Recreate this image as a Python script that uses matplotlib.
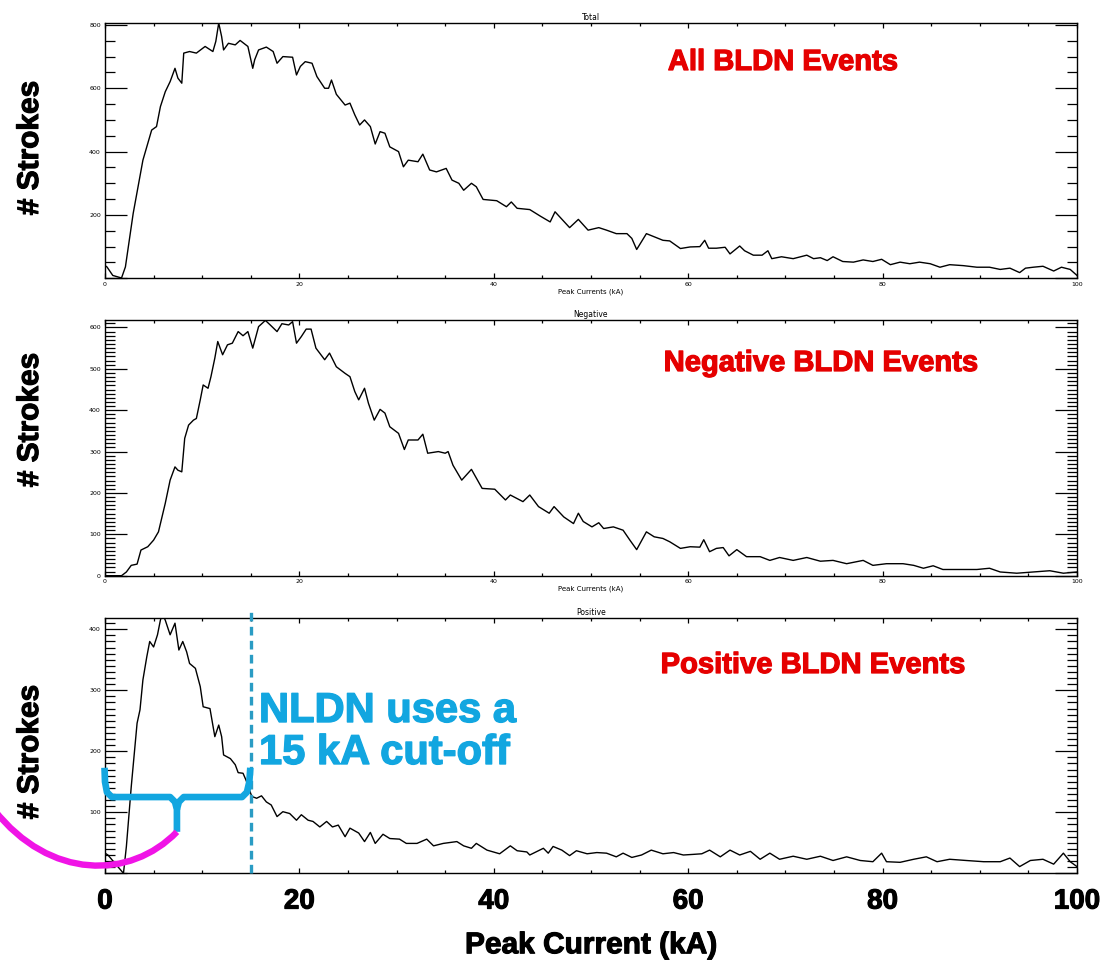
import numpy as np
import matplotlib
matplotlib.use("Agg")
import matplotlib.pyplot as plt
from matplotlib.ticker import MultipleLocator, FuncFormatter
from matplotlib.path import Path
from matplotlib.patches import PathPatch
import matplotlib.patheffects as pe

# ---------------- data ----------------
total_ka = [0, 0.2, 0.8, 1.7, 2.1, 2.9, 3.4, 3.9, 4.5, 4.8,
            5.3, 5.7, 6.2, 6.7, 7.2, 7.5, 7.9, 8.1, 8.7, 9.4,
            10.3, 11.1, 11.4, 11.7, 12.0, 12.2, 12.7, 13.4, 13.9, 14.7,
            15.2, 15.4, 15.8, 16.6, 17.3, 17.7, 18.3, 19.3, 19.7, 20.1,
            20.6, 21.3, 21.8, 22.6, 23.0, 23.3, 23.8, 24.7, 25.2, 25.7,
            26.2, 26.7, 27.3, 27.8, 28.3, 28.8, 29.3, 30.2, 30.7, 31.2,
            32.2, 32.7, 33.4, 34.1, 35.1, 35.7, 36.4, 36.9, 37.7, 38.2,
            38.9, 40.3, 41.3, 41.8, 42.4, 43.7, 44.8, 45.8, 46.3, 47.8,
            48.7, 49.7, 50.8, 51.6, 52.6, 53.7, 54.2, 54.7, 55.7, 57.4,
            58.1, 59.2, 60.2, 61.2, 61.7, 62.1, 62.9, 63.8, 64.3, 65.3,
            65.8, 66.7, 67.6, 68.2, 68.6, 69.6, 70.8, 72.2, 72.9, 73.6,
            74.3, 74.9, 75.9, 77.0, 78.0, 79.0, 79.9, 80.8, 81.8, 82.8,
            83.8, 84.9, 85.9, 86.9, 88.3, 89.7, 91.0, 92.1, 93.1, 94.1,
            94.7, 95.5, 96.5, 97.6, 98.4, 99.3, 100]
total_n = [40, 36, 9, 1, 36, 205, 289, 373, 437, 468,
           479, 542, 589, 621, 663, 632, 616, 711, 716, 711,
           732, 716, 748, 806, 763, 721, 742, 737, 751, 732,
           663, 690, 721, 730, 716, 679, 700, 698, 642, 669,
           684, 679, 637, 600, 600, 626, 581, 547, 553, 516,
           484, 500, 479, 424, 463, 458, 415, 400, 352, 373,
           368, 392, 342, 336, 347, 310, 300, 278, 300, 289,
           249, 245, 226, 241, 221, 217, 196, 178, 210, 160,
           186, 152, 160, 152, 141, 141, 126, 91, 141, 120,
           118, 94, 99, 100, 120, 95, 95, 98, 77, 102,
           87, 73, 73, 87, 62, 68, 62, 73, 62, 65,
           56, 68, 53, 51, 58, 53, 60, 43, 51, 46,
           51, 46, 35, 43, 40, 35, 35, 28, 32, 18,
           32, 35, 38, 23, 35, 28, 9]

neg_ka = [0, 1.7, 2.2, 2.7, 3.3, 3.7, 4.4, 5.0, 5.5, 5.7,
          6.2, 6.7, 7.2, 7.5, 7.9, 8.2, 8.6, 9.1, 9.4, 9.8,
          10.1, 10.6, 10.9, 11.3, 11.6, 12.1, 12.6, 13.1, 13.7, 14.2,
          14.7, 15.2, 15.8, 16.5, 17.0, 17.7, 18.2, 18.9, 19.3, 19.7,
          20.2, 20.7, 21.2, 21.7, 22.6, 23.1, 23.8, 24.7, 25.2, 25.7, 26.1,
          26.7, 27.1, 27.7, 28.3, 28.8, 29.3, 30.2, 30.8, 31.2, 32.2,
          32.7, 33.2, 34.3, 35.0, 35.3, 35.8, 36.7, 37.7, 38.8, 40.1,
          41.2, 41.7, 43.0, 43.7, 44.6, 45.7, 46.2, 47.2, 48.2, 48.7,
          49.2, 50.1, 50.8, 51.3, 52.3, 53.3, 54.0, 54.7, 55.7, 56.5,
          57.4, 58.1, 59.2, 60.2, 61.2, 61.6, 62.2, 62.9, 63.6, 64.2,
          65.0, 66.0, 67.4, 68.4, 69.4, 70.8, 72.2, 73.6, 74.9, 76.3,
          78.0, 79.0, 80.4, 82.1, 83.2, 84.2, 85.2, 86.2, 88.0, 89.7,
          91.0, 92.1, 93.8, 95.5, 97.2, 98.6, 100]
neg_n = [0, 0, 9, 25, 28, 62, 70, 86, 106, 126,
         175, 231, 263, 255, 251, 332, 364, 376, 380, 425,
         461, 453, 481, 526, 566, 534, 558, 562, 590, 580,
         590, 550, 602, 617, 606, 590, 609, 606, 614, 562,
         578, 596, 596, 550, 522, 538, 505, 489, 481, 445, 425,
         453, 417, 376, 402, 393, 360, 344, 305, 328, 328,
         342, 296, 300, 296, 300, 267, 231, 257, 211, 209,
         183, 195, 179, 195, 167, 151, 167, 142, 126, 151,
         131, 118, 128, 114, 118, 110, 86, 63, 106, 94,
         90, 82, 66, 70, 69, 87, 58, 66, 68, 48,
         63, 46, 46, 37, 44, 37, 44, 35, 37, 29,
         37, 25, 29, 29, 25, 18, 24, 15, 15, 15,
         18, 9, 6, 9, 12, 6, 9]

pos_ka = [0, 0.3, 1.9, 2.2, 2.7, 3.3, 3.6, 3.9, 4.3, 4.6,
          5.0, 5.4, 5.7, 5.9, 6.2, 6.7, 7.2, 7.6, 8.0, 8.4,
          8.7, 9.3, 9.8, 10.1, 10.8, 11.3, 11.7, 12.0, 12.2, 12.9,
          13.4, 13.7, 14.2, 14.5, 15.1, 15.6, 16.1, 16.6, 17.1, 17.7,
          18.3, 19.0, 19.7, 20.2, 20.9, 21.4, 22.1, 22.8, 23.4, 24.0,
          24.7, 25.2, 26.1, 26.7, 27.3, 27.8, 28.6, 29.3, 30.3, 31.0,
          32.1, 33.1, 33.8, 34.8, 36.2, 36.9, 37.7, 38.2, 39.3, 40.6,
          41.7, 42.4, 43.4, 43.7, 45.1, 45.6, 46.1, 47.0, 47.8, 48.5,
          49.6, 50.6, 51.6, 52.6, 53.3, 54.2, 55.2, 56.2, 57.4, 58.5,
          59.5, 60.5, 61.4, 62.2, 63.3, 64.3, 65.3, 66.4, 67.4, 68.4,
          69.4, 70.8, 72.2, 73.6, 74.9, 76.3, 77.7, 79.0, 79.9, 80.4,
          81.8, 83.2, 84.5, 85.6, 86.9, 88.6, 90.4, 92.1, 93.1, 94.1,
          95.2, 96.5, 97.6, 98.6, 99.3, 100]
pos_n = [33, 30, 0, 44, 142, 246, 268, 317, 355, 380,
         371, 391, 415, 425, 415, 391, 410, 366, 380, 363,
         344, 336, 306, 273, 270, 224, 243, 224, 194, 188,
         178, 165, 164, 153, 126, 123, 127, 117, 112, 93,
         101, 98, 87, 96, 87, 85, 76, 85, 76, 79,
         60, 74, 66, 52, 67, 49, 64, 57, 56, 49,
         49, 56, 45, 49, 52, 45, 41, 49, 38, 32,
         45, 37, 35, 30, 41, 33, 44, 38, 29, 37,
         32, 34, 33, 27, 33, 26, 30, 38, 32, 34,
         30, 31, 32, 38, 27, 38, 30, 36, 23, 33,
         23, 28, 23, 28, 21, 27, 21, 19, 33, 19,
         18, 23, 27, 19, 23, 21, 19, 19, 25, 11,
         21, 23, 15, 33, 19, 11]

panel_titles = ["Total", "Negative", "Positive"]
panel_labels = ["All BLDN Events", "Negative BLDN Events", "Positive BLDN Events"]
x_ticks = [0, 20, 40, 60, 80, 100]
nldn_cutoff = 15
annotation_lines = ["NLDN uses a", "15 kA cut-off"]

# ---------------- figure ----------------
W, H = 1109, 963
fig = plt.figure(figsize=(W / 100, H / 100), dpi=100)
fig.patch.set_facecolor("white")

BOLD = ["Liberation Sans", "DejaVu Sans"]
RED = "#e50000"
CYAN = "#12a6e0"
DASH = "#2a9cc4"
MAGENTA = "#f014e6"


def heavy(color, w=0.9):
    return [pe.withStroke(linewidth=w, foreground=color)]


def rect(top, bottom):
    return [105 / W, 1 - bottom / H, (1077 - 105) / W, (bottom - top) / H]


ax1 = fig.add_axes(rect(22.7, 278.3))
ax2 = fig.add_axes(rect(320.0, 575.7))
ax3 = fig.add_axes(rect(617.7, 873.3))


def style(ax, ymax, ymaj, ymin, hide_zero):
    ax.set_xlim(0, 100)
    ax.set_ylim(0, ymax)
    ax.set_xticks(x_ticks)
    ax.xaxis.set_minor_locator(MultipleLocator(5))
    ax.yaxis.set_major_locator(MultipleLocator(ymaj))
    ax.yaxis.set_minor_locator(MultipleLocator(ymin))
    ax.tick_params(which="both", direction="in", top=True, right=True,
                   width=0.9, color="black")
    ax.tick_params(axis="x", which="major", length=3.6)
    ax.tick_params(axis="x", which="minor", length=2.4)
    ax.tick_params(axis="y", which="major", length=15.5)
    ax.tick_params(axis="y", which="minor", length=7.0)
    ax.tick_params(axis="y", labelsize=4.5, pad=3)
    if hide_zero:
        ax.yaxis.set_major_formatter(FuncFormatter(lambda v, p: "" if v == 0 else f"{v:g}"))
    for s in ax.spines.values():
        s.set_linewidth(1.0)
        s.set_color("black")


style(ax1, 807, 200, 50, True)
style(ax2, 618, 100, 10, False)
style(ax3, 419, 100, 10, True)

for ax in (ax1, ax2):
    ax.tick_params(axis="x", labelsize=4.5, pad=2.5)
    ax.set_xlabel("Peak Currents (kA)", fontsize=5, labelpad=1)

ax3.set_xticklabels([str(v) for v in x_ticks], fontsize=20, fontweight="bold",
                    family=BOLD)
for lab in ax3.get_xticklabels():
    lab.set_path_effects(heavy("black", 0.8))
ax3.tick_params(axis="x", pad=11)
xl = ax3.set_xlabel("Peak Current (kA)", fontsize=21.5, fontweight="bold",
                    family=BOLD, labelpad=12)
xl.set_path_effects(heavy("black", 0.8))

for ax, t in zip((ax1, ax2, ax3), panel_titles):
    ax.set_title(t, fontsize=5.5, pad=2)

ax1.plot(total_ka, total_n, color="black", lw=1.0)
ax2.plot(neg_ka, neg_n, color="black", lw=1.0)
ax3.plot(pos_ka, pos_n, color="black", lw=1.0)

# red panel labels
for (xc, yc), lab in zip([(783, 62), (821, 363), (813, 665)], panel_labels):
    fig.text(xc / W, 1 - yc / H, lab, color=RED, fontsize=21,
             fontweight="bold", family=BOLD, ha="center", va="center",
             path_effects=heavy(RED))

# y labels
for yc in (148, 420, 752):
    fig.text(30 / W, 1 - yc / H, "# Strokes", rotation=90, fontsize=21.5,
             fontweight="bold", family=BOLD, ha="center", va="center",
             path_effects=heavy("black", 0.8))

# cut-off line
ax3.plot([nldn_cutoff, nldn_cutoff], [0, 428], color=DASH, lw=2.4,
         linestyle=(0, (2.6, 1.6)), clip_on=False, zorder=4)

# annotation text
for yc, line in zip((711, 753), annotation_lines):
    fig.text(259 / W, 1 - yc / H, line, color=CYAN, fontsize=30,
             fontweight="bold", family=BOLD, ha="left", va="center",
             path_effects=heavy(CYAN, 1.0))

# curly brace from 0 to cut-off
lvl = 125
mid = nldn_cutoff / 2 - 0.1
left = [(-0.05, 173), (0.0, 150), (0.2, 133), (0.7, lvl), (mid - 0.7, lvl),
        (mid - 0.2, lvl - 8), (mid, lvl - 20), (mid, 68)]
right = [(mid, lvl - 20), (mid + 0.2, lvl - 8), (mid + 0.7, lvl),
         (nldn_cutoff - 0.9, lvl), (nldn_cutoff - 0.4, 133),
         (nldn_cutoff - 0.15, 150), (nldn_cutoff - 0.05, 173)]
for seg in (left, right):
    xs, ys = zip(*seg)
    ax3.plot(xs, ys, color=CYAN, lw=4.8, clip_on=False, zorder=5,
             solid_joinstyle="round", solid_capstyle="butt")

# magenta arc from the brace tip out to the left edge
arc = Path([(mid, 68), (2.6, -11), (-5.7, -11), (-11.4, 104)],
           [Path.MOVETO, Path.CURVE4, Path.CURVE4, Path.CURVE4])
ax3.add_patch(PathPatch(arc, facecolor="none", edgecolor=MAGENTA, lw=4.6,
                        clip_on=False, zorder=5))

fig.savefig("out.png", dpi=100, facecolor="white")
